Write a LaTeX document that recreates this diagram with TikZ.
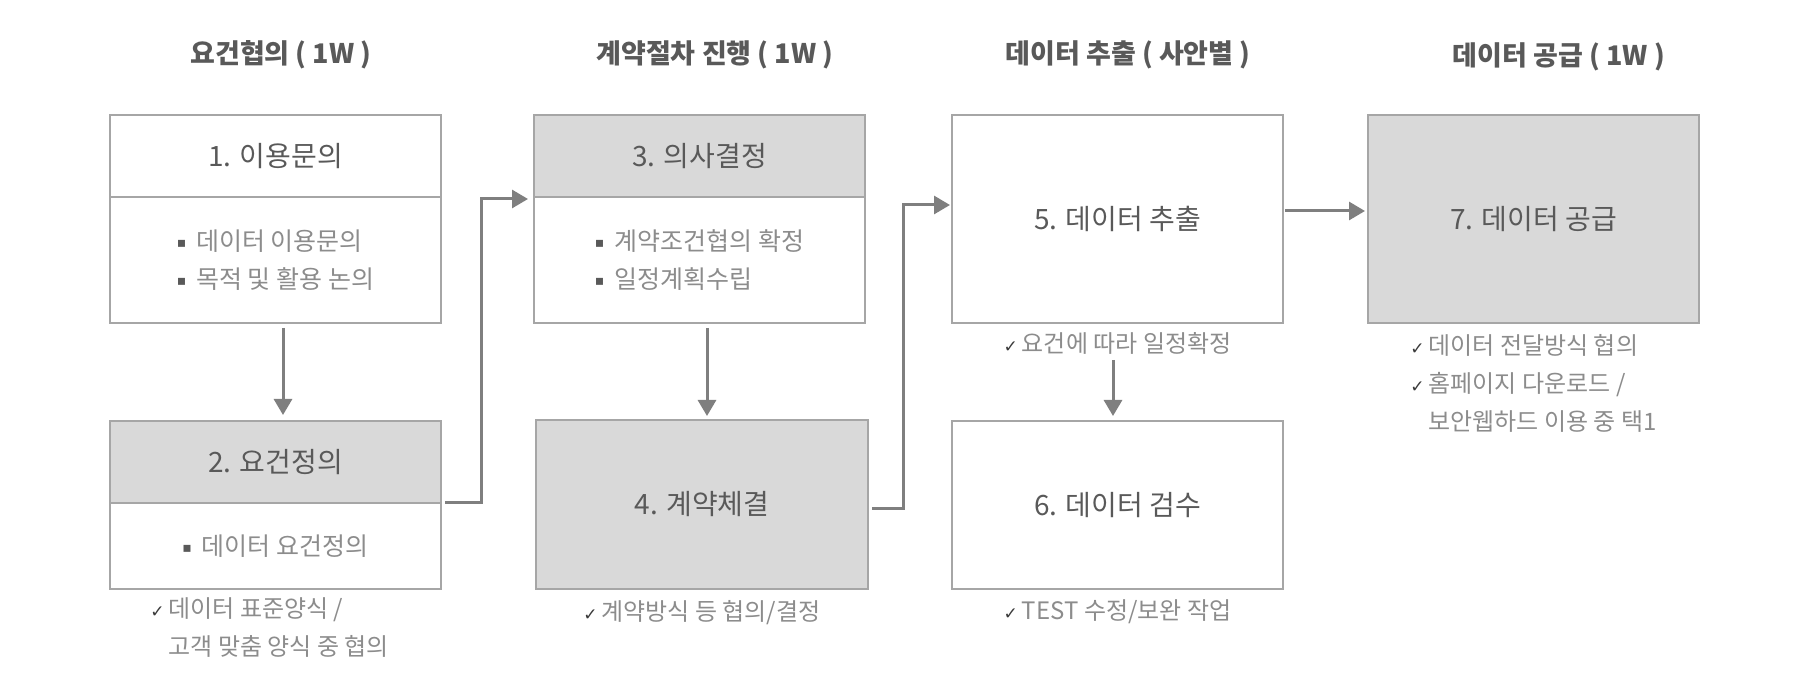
\documentclass[tikz,border=0pt]{standalone}
\usepackage{fontspec}
\setmainfont{Noto Sans CJK KR}
\newfontfamily\dv{DejaVu Sans}
\usetikzlibrary{arrows.meta,positioning,calc}
\definecolor{boxline}{HTML}{A6A6A6}
\definecolor{headfill}{HTML}{D9D9D9}
\definecolor{arrowgray}{HTML}{7F7F7F}
\definecolor{darktext}{HTML}{595959}
\definecolor{softtext}{HTML}{8C8C8C}
\definecolor{checkgray}{HTML}{3A3A3A}
\newcommand\bul{\raisebox{1.5pt}{\dv\fontsize{7pt}{7pt}\selectfont\color{darktext}▪}\hspace{5pt}}
\newcommand\ck{{\dv\fontsize{8.5pt}{8.5pt}\selectfont\color{checkgray}✓}\hspace{2pt}}
\newcommand \myheadbox[7][]
{
\node[headbox,#1] (#2h) at (#3,#4) {#5};                                % header
\node[bodybox, below=0pt of #2h, minimum height=#6] (#2) {#7};          % body
}

\begin{document}
\begin{tikzpicture}[x=0.5pt,y=-0.5pt,
  box/.style={draw=boxline, line width=1pt, outer sep=0pt, minimum width=165.5pt, text=darktext,
    font=\fontsize{14pt}{17pt}\selectfont},
  headbox/.style={box, minimum height=41pt},
  bodybox/.style={box, text=softtext, align=left, font=\fontsize{12.5pt}{19pt}\selectfont},
  fullbox/.style={box, minimum height=104pt},
  phase/.style={text=darktext, font=\bfseries\fontsize{13.5pt}{16pt}\selectfont},
  note/.style={text=softtext, align=left, inner sep=0pt, font=\fontsize{12pt}{19pt}\selectfont},
  arr/.style={draw=arrowgray, line width=1.5pt, -{Triangle[length=8pt,width=9pt]}}]
\useasboundingbox (0,0) rectangle (1806,678);
% phases
\node[phase] (t1) at (281,55)  {요건협의 ( 1W )};
\node[phase] (t2) at (715,55)  {계약절차 진행 ( 1W )};
\node[phase] (t3) at (1128,55) {데이터 추출 ( 사안별 )};
\node[phase] (t4) at (1559,57) {데이터 공급 ( 1W )};
% boxes
\myheadbox{b1}{275.5}{156}{1. 이용문의}{63pt}{\bul 데이터 이용문의\\\bul 목적 및 활용 논의}
\myheadbox[fill=headfill]{b2}{275.5}{462}{2. 요건정의}{43pt}{\bul 데이터 요건정의}
\myheadbox[fill=headfill]{b3}{699.5}{156}{3. 의사결정}{63pt}{\bul 계약조건협의 확정\\\bul 일정계획수립}
\node[box, fill=headfill, minimum width=166pt, minimum height=84.5pt] (b4) at (702,504.5) {4. 계약체결};
\node[fullbox] (b5) at (1117.5,219) {5. 데이터 추출};
\node[box, minimum height=84pt] (b6) at (1117.5,505) {6. 데이터 검수};
\node[fullbox, fill=headfill] (b7) at (1533.5,219) {7. 데이터 공급};
% notes
\node[note, anchor=west] (n2) at ($(b2.south west)+(40,38.5)$) {\ck 데이터 표준양식 /\\\phantom{\ck}고객 맞춤 양식 중 협의};
\node[note] (n4) at ($(b4.south)+(0,24)$) {\ck 계약방식 등 협의/결정};
\node[note] (n5) at ($(b5.south)+(0,20)$) {\ck 요건에 따라 일정확정};
\node[note] (n6) at ($(b6.south)+(0,23)$) {\ck TEST 수정/보완 작업};
\node[note, anchor=west] (n7) at ($(b7.south west)+(42,60)$) {\ck 데이터 전달방식 협의\\\ck 홈페이지 다운로드 /\\\phantom{\ck}보안웹하드 이용 중 택1};
% connectors
\draw[arr] ($(b1.south)+(7.5,5)$) -- ($(b2h.north)+(7.5,-6)$);
\draw[arr] ($(b3.south)+(7.5,5)$) -- ($(b4.north)+(5,-4)$);
\draw[arr] ($(b5.south)+(-4.5,37)$) -- ($(b6.north)+(-4.5,-5)$);
\draw[arr] ($(b2.north east)+(4,0)$) -- ($(b2.north east)+(40,0)$) |- ($(b3.north west)+(-6,2)$);
\draw[arr] ($(b4.east)+(4,4.5)$) -- ($(b4.east)+(35,4.5)$) |- ($(b5.north west)+(-2,90)$);
\draw[arr] ($(b5.east)+(2,-8)$) -- ($(b7.west)+(-3,-8)$);
\end{tikzpicture}
\end{document}
